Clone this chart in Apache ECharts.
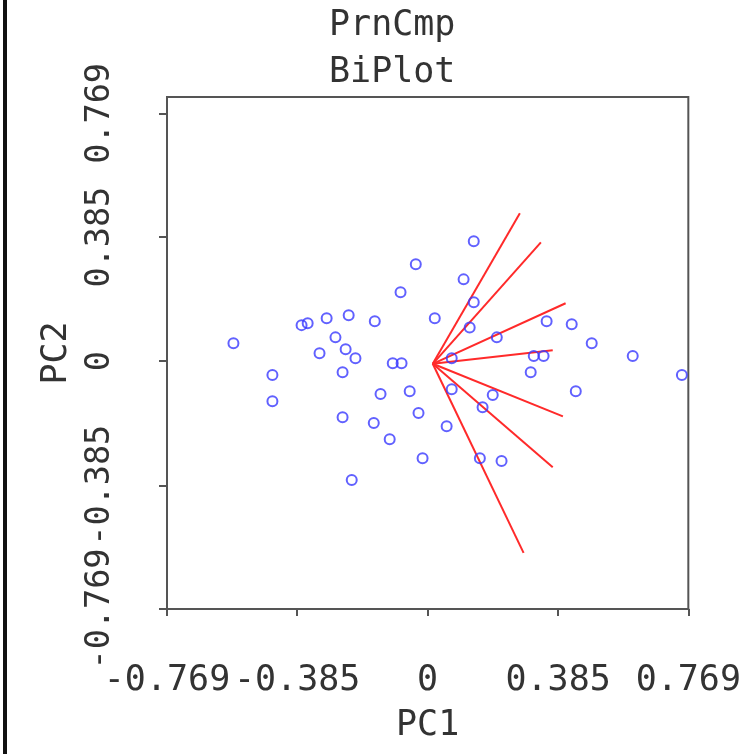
<!DOCTYPE html>
<html>
<head>
<meta charset="utf-8">
<script src="https://cdn.jsdelivr.net/npm/echarts@6/dist/echarts.min.js"></script>
<style>
  html, body { margin: 0; padding: 0; background: #fff; }
  #chart { width: 744px; height: 754px; }
</style>
</head>
<body>
<div id="chart"></div>
<script>
// observation scores (PC1, PC2)
const pc1 = [
  -0.035, -0.080, -0.298, -0.233, -0.156, 0.021, -0.372, -0.354, -0.573, -0.272,
  -0.319, -0.242, -0.213, -0.251, -0.103, -0.077, -0.458, -0.458, -0.139, -0.053,
  -0.251, -0.159, -0.027, -0.112, -0.015, -0.224, 0.056, 0.136, 0.106, 0.136,
  0.124, 0.204, 0.351, 0.425, 0.484, 0.605, 0.750, 0.313, 0.342, 0.304,
  0.437, 0.071, 0.071, 0.192, 0.162, 0.154, 0.218
]
const pc2 = [
  0.301, 0.214, 0.133, 0.143, 0.124, 0.133, 0.112, 0.118, 0.056, 0.074,
  0.025, 0.037, 0.009, -0.034, -0.006, -0.006, -0.043, -0.124, -0.102, -0.093,
  -0.174, -0.192, -0.161, -0.242, -0.301, -0.369, -0.202, 0.372, 0.254, 0.183,
  0.105, 0.074, 0.124, 0.115, 0.056, 0.016, -0.043, 0.016, 0.016, -0.034,
  -0.093, 0.009, -0.087, -0.105, -0.143, -0.301, -0.310
]
// loading vectors (end points), drawn from the origin
const loadX = [0.272, 0.334, 0.407, 0.369, 0.399, 0.369, 0.283]
const loadY = [0.459, 0.369, 0.180, 0.034, -0.171, -0.329, -0.595]
const origin = [0.015, -0.008]

const tickValues = [-0.769, -0.385, 0, 0.385, 0.769]
const tickLabels = ['-0.769', '-0.385', '0', '0.385', '0.769']

const chartDom = document.getElementById('chart')
const myChart = echarts.init(chartDom)

const font = 'DejaVu Sans Mono'
const axisColor = '#555'
const textColor = '#333'

const fmt = v => {
  const i = tickValues.findIndex(t => Math.abs(t - v) < 1e-6)
  return i >= 0 ? tickLabels[i] : ''
}

const points = pc1.map((x, i) => [x, pc2[i]])
const arrowSeries = loadX.map((x, i) => ({
  type: 'line',
  data: [origin, [x, loadY[i]]],
  symbol: 'none',
  lineStyle: { color: '#ff2a2a', width: 2 },
  z: 2,
  silent: true
}))

const option = {
  animation: false,
  backgroundColor: '#fff',
  title: {
    text: 'PrnCmp\nBiPlot',
    left: 329,
    top: 2,
    padding: 0,
    textStyle: {
      fontFamily: font,
      fontSize: 35,
      fontWeight: 'normal',
      lineHeight: 47,
      color: textColor
    }
  },
  graphic: [
    { type: 'rect', shape: { x: 3, y: 0, width: 4, height: 754 }, style: { fill: '#111' } }
  ],
  grid: {
    left: 167,
    right: 55,
    top: 97,
    bottom: 145,
    show: true,
    borderColor: axisColor,
    borderWidth: 2,
    containLabel: false
  },
  xAxis: {
    type: 'value',
    min: -0.769,
    max: 0.769,
    name: 'PC1',
    nameLocation: 'middle',
    nameGap: 99,
    nameTextStyle: { fontFamily: font, fontSize: 35, color: textColor },
    axisLine: { show: true, onZero: false, lineStyle: { color: axisColor, width: 2 } },
    axisTick: { show: true, inside: false, length: 7, customValues: tickValues, lineStyle: { color: axisColor, width: 2 } },
    axisLabel: {
      customValues: tickValues,
      formatter: fmt,
      showMinLabel: true,
      showMaxLabel: true,
      margin: 54,
      fontFamily: font,
      fontSize: 35,
      color: textColor
    },
    splitLine: { show: false }
  },
  yAxis: {
    type: 'value',
    min: -0.769,
    max: 0.82,
    name: 'PC2',
    nameLocation: 'middle',
    nameGap: 93,
    nameTextStyle: { fontFamily: font, fontSize: 35, color: textColor },
    axisLine: { show: true, onZero: false, lineStyle: { color: axisColor, width: 2 } },
    axisTick: { show: true, inside: false, length: 8, customValues: tickValues, lineStyle: { color: axisColor, width: 2 } },
    axisLabel: {
      customValues: tickValues,
      formatter: fmt,
      showMinLabel: true,
      showMaxLabel: true,
      rotate: 90,
      margin: 50,
      fontFamily: font,
      fontSize: 33.5,
      color: textColor
    },
    splitLine: { show: false }
  },
  series: [
    ...arrowSeries,
    {
      type: 'scatter',
      data: points,
      symbol: 'circle',
      symbolSize: 10,
      itemStyle: { color: 'rgba(0,0,0,0)', borderColor: '#3a3aff', borderWidth: 2 },
      z: 3
    }
  ]
}
myChart.setOption(option)
</script>
</body>
</html>
